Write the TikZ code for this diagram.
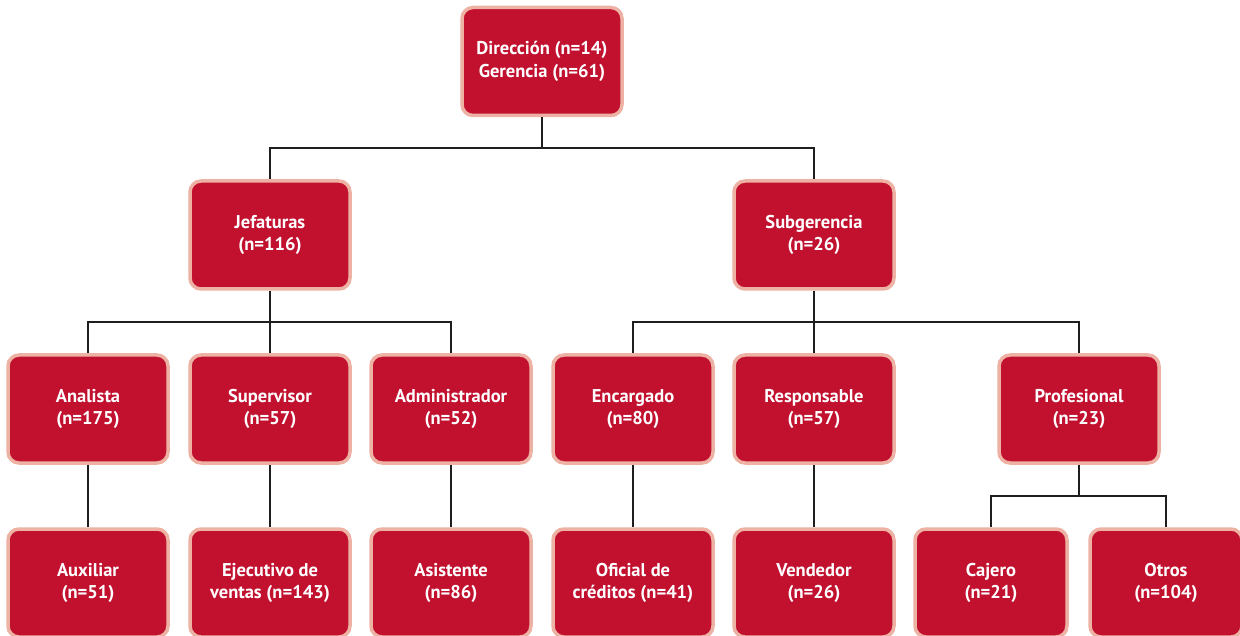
\documentclass[tikz,border=0pt]{standalone}
\usepackage{fontspec}
\setsansfont{PT Sans}
\definecolor{boxred}{HTML}{C1112F}
\definecolor{boxrim}{HTML}{EDB2A4}
\definecolor{wire}{HTML}{1E1E1E}
\begin{document}
\begin{tikzpicture}[x=1pt,y=-1pt,
  orgbox/.style={draw=boxrim, fill=boxred, line width=3.5pt, rounded corners=11pt,
    minimum width=160pt, minimum height=108pt, inner sep=0pt, align=center,
    text=white, font=\sffamily\bfseries\fontsize{18.5}{22.5}\selectfont},
  wired/.style={draw=wire, line width=1.4pt}]
\useasboundingbox (0,0) rectangle (1240,636);

% top level
\node[orgbox] (dir) at (542,61.5) {Dirección (n=14)\\Gerencia (n=61)};

% second level
\node[orgbox] (jef) at (270,235) {Jefaturas\\(n=116)};
\node[orgbox] (sub) at (814,235) {Subgerencia\\(n=26)};

% third level
\node[orgbox] (ana) at (88,409)   {Analista\\(n=175)};
\node[orgbox] (sup) at (270,409)  {Supervisor\\(n=57)};
\node[orgbox] (adm) at (451,409)  {Administrador\\(n=52)};
\node[orgbox] (enc) at (633,409)  {Encargado\\(n=80)};
\node[orgbox] (res) at (814,409)  {Responsable\\(n=57)};
\node[orgbox] (pro) at (1079,409) {Profesional\\(n=23)};

% fourth level
\node[orgbox] (aux) at (88,583)   {Auxiliar\\(n=51)};
\node[orgbox] (eje) at (270,583)  {Ejecutivo de\\ventas (n=143)};
\node[orgbox] (asi) at (451,583)  {Asistente\\(n=86)};
\node[orgbox] (ofi) at (633,583)  {Oficial de\\créditos (n=41)};
\node[orgbox] (ven) at (814,583)  {Vendedor\\(n=26)};
\node[orgbox, minimum width=152pt] (caj) at (991,583)  {Cajero\\(n=21)};
\node[orgbox, minimum width=152pt] (otr) at (1166,583) {Otros\\(n=104)};

% bus levels
\coordinate (busA) at (0,148);
\coordinate (busB) at (0,322);
\coordinate (busC) at (0,496);

\draw[wired] (dir.south) -- (dir.south |- busA) -| (jef.north);
\draw[wired] (dir.south |- busA) -| (sub.north);

\draw[wired] (jef.south) -- (jef.south |- busB) -| (ana.north);
\draw[wired] (jef.south |- busB) -- (sup.north);
\draw[wired] (jef.south |- busB) -| (adm.north);

\draw[wired] (sub.south) -- (sub.south |- busB) -| (enc.north);
\draw[wired] (sub.south |- busB) -- (res.north);
\draw[wired] (sub.south |- busB) -| (pro.north);

\draw[wired] (ana.south) -- (aux.north);
\draw[wired] (sup.south) -- (eje.north);
\draw[wired] (adm.south) -- (asi.north);
\draw[wired] (enc.south) -- (ofi.north);
\draw[wired] (res.south) -- (ven.north);

\draw[wired] (pro.south) -- (pro.south |- busC) -| (caj.north);
\draw[wired] (pro.south |- busC) -| (otr.north);
\end{tikzpicture}
\end{document}
